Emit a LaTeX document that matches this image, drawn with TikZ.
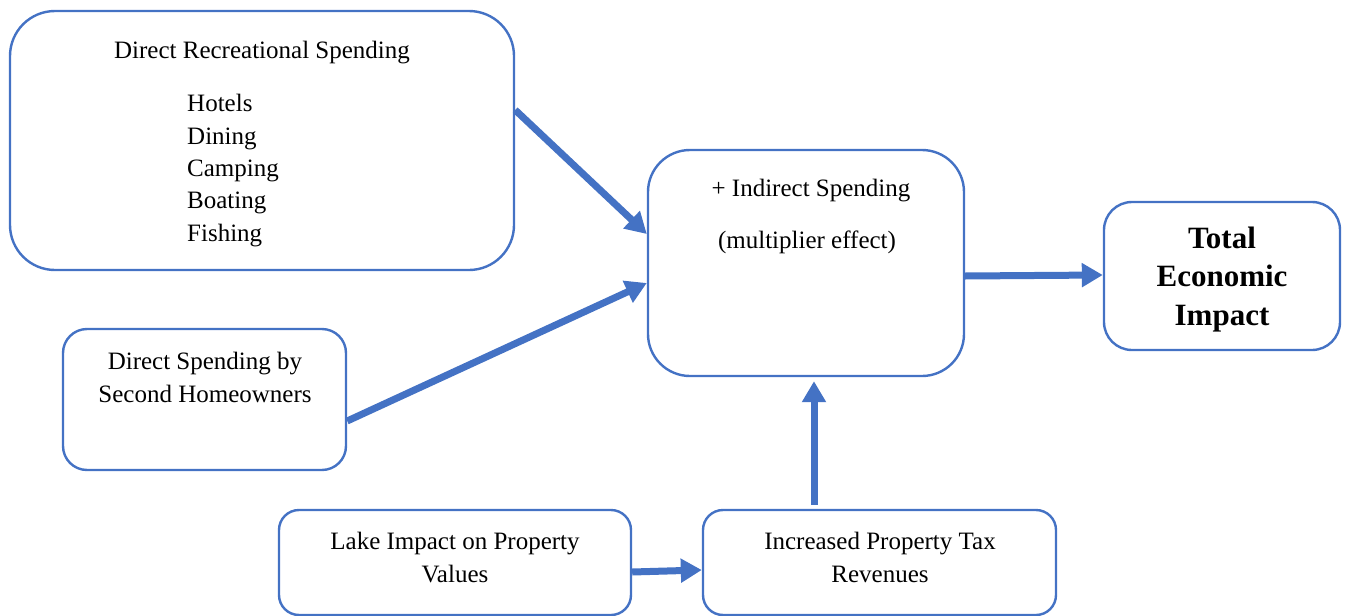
\documentclass[tikz,border=0pt]{standalone}
\usepackage{fontspec}
\setmainfont{Liberation Serif}
\usetikzlibrary{arrows.meta,calc}
\definecolor{flowblue}{HTML}{4472C4}
\tikzset{
  box/.style={draw=flowblue, line width=2.4pt, rectangle, inner sep=0pt},
  label/.style={inner sep=0pt, anchor=base, align=center,
                font=\fontsize{25}{32.3}\selectfont},
  flow/.style={draw=flowblue, line width=7pt,
               -{Triangle[length=21pt,width=23pt]}},
}
\begin{document}
\begin{tikzpicture}[x=1pt,y=-1pt]
\useasboundingbox (0,0) rectangle (1345,616);

% boxes
\node[box, rounded corners=45pt, minimum width=504pt, minimum height=259pt] (rec) at (262,140.5) {};
\node[box, rounded corners=42pt, minimum width=316pt, minimum height=226pt] (ind) at (806,263) {};
\node[box, rounded corners=28pt, minimum width=236pt, minimum height=148pt] (tot) at (1222,276) {};
\node[box, rounded corners=24pt, minimum width=283pt, minimum height=141pt] (home) at (204.5,399.5) {};
\node[box, rounded corners=20pt, minimum width=352pt, minimum height=105pt] (lake) at (455,562.5) {};
\node[box, rounded corners=20pt, minimum width=353pt, minimum height=105pt] (tax) at (879.5,562.5) {};

% texts (multi-line nodes are placed by the baseline of their last line)
\node[label] (recT) at (262,58) {Direct Recreational Spending};
\node[label, align=left, anchor=base west] (recL) at (187,241) {Hotels\\Dining\\Camping\\Boating\\Fishing};
\node[label] (indT) at (811,196) {+ Indirect Spending};
\node[label] (indM) at (807,248) {(multiplier effect)};
\node[label, font=\bfseries\fontsize{31}{38.5}\selectfont] (totT) at (1222,325) {Total\\Economic\\Impact};
\node[label] (homeT) at (205,402) {Direct Spending by\\Second Homeowners};
\node[label] (lakeT) at (455,582) {Lake Impact on Property\\Values};
\node[label] (taxT) at (880,582) {Increased Property Tax\\Revenues};

% connectors
\draw[flow] ($(rec.east)+(0,-30.5)$) -- ($(ind.west)+(0,-29)$);
\draw[flow] ($(home.east)+(0,21.5)$) -- ($(ind.west)+(0,20)$);
\draw[flow] ($(ind.east)+(0,13)$) -- ($(tot.west)+(0,-1)$);
\draw[flow] ($(lake.east)+(0,9.5)$) -- ($(tax.west)+(0,7.5)$);
\draw[flow] ($(tax.north)+(-65.5,-4)$) -- ($(ind.south)+(8,4)$);
\end{tikzpicture}
\end{document}
